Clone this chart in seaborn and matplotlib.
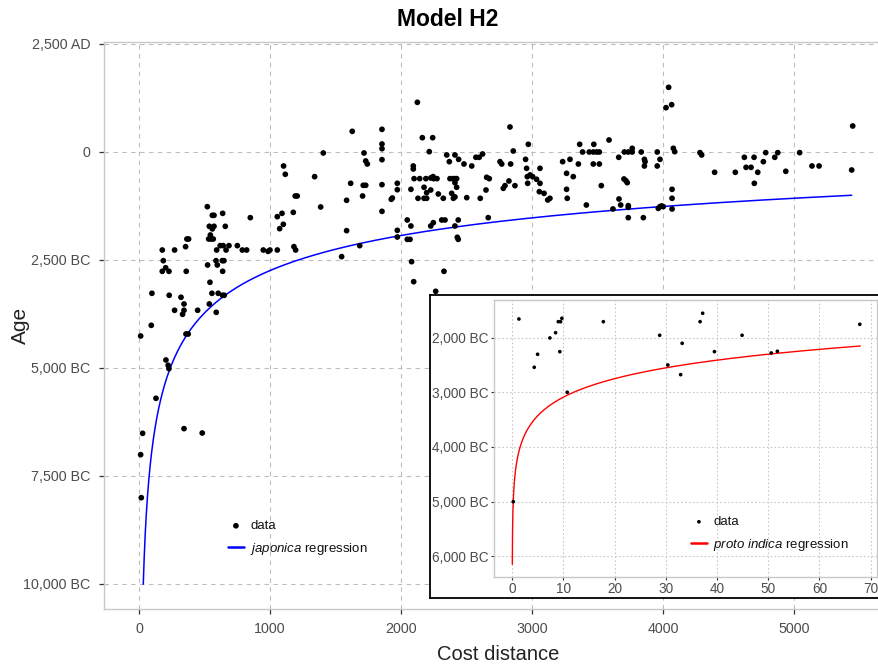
import numpy as np
import pandas as pd
import matplotlib
matplotlib.use("Agg")
import matplotlib.pyplot as plt
import seaborn as sns

# ---------------- data ----------------
# main panel: cost distance vs age (calendar year, negative = BC)
cost_main = [
    1628, 1855, 1855, 1855, 1855, 1407, 1718, 1731, 1743, 1104, 1117, 1341, 1616, 1712, 1731,
    1707, 1855, 1972, 1972, 1926, 1934, 1585, 1387, 1193, 1208, 1178, 1855, 1056, 1092, 1102,
    1074, 1585, 1972, 1972, 1547, 1685, 1183, 1196, 850, 751, 789, 822, 949, 985, 1000, 1056,
    522, 560, 573, 639, 537, 573, 560, 659, 545, 532, 550, 567, 366, 379, 356, 178, 272, 593,
    620, 643, 665, 687, 186, 178, 204, 229, 361, 588, 636, 649, 598, 639, 524, 542, 99, 231,
    321, 557, 605, 638, 651, 537, 272, 344, 344, 333, 448, 590, 94, 13, 359, 376, 206, 223,
    229, 130, 344, 483, 28, 13, 18,
    2125, 2163, 2242, 2216, 2094, 2094, 2076, 2100, 2143, 2190, 2227, 2245, 2250, 2275, 2176,
    2227, 2196, 2130, 2176, 2196, 2048, 2076, 2048, 2069, 2081, 2097, 2265, 2328, 2227, 2247,
    2285, 2323, 2311, 2336, 2349, 2369, 2412, 2440, 2481, 2374, 2395, 2412, 2425, 2412, 2425,
    2387, 2412, 2400, 2412, 2437, 2430, 2437, 2502, 2540, 2572, 2597, 2623, 2605, 2649, 2654,
    2674, 2666, 2756, 2769, 2832, 2857, 2837, 2824, 2870, 2781, 2794, 2951, 2959, 2972, 2964,
    2985, 3005, 3035, 2967, 3061, 3061, 3056, 3092, 3120, 3137, 3234, 3290, 3264, 3315, 3264,
    3269, 3364, 3354, 3386, 3437, 3472, 3468, 3494, 3514, 3468, 3514, 3415, 3529, 3588, 3618,
    3662, 3664, 3677, 3705, 3735, 3765, 3765, 3702, 3717, 3727, 3735, 3735, 3735, 3834, 3858,
    3863, 3858, 3850, 3956, 3977, 3956, 3964, 3977, 4002, 3990, 4043, 4023, 4066, 4079, 4089,
    4069, 4069, 4069, 4282, 4295, 4394, 4552, 4621, 4634, 4672, 4695, 4697, 4723, 4766, 4784,
    4853, 4876, 4937, 5043, 5137, 5191, 5448, 5440,
]
age_main = [
    478, 525, 185, 77, -178, -23, -23, -208, -278, -324, -516, -571, -725, -771, -771,
    -1019, -756, -725, -873, -1095, -1065, -1118, -1273, -1019, -1019, -1397, -1374, -1497, -1420, -1674,
    -1775, -1821, -1813, -1968, -2423, -2168, -2192, -2269, -1520, -2168, -2269, -2269, -2269, -2300, -2269, -2269,
    -1266, -1466, -1466, -1420, -1720, -1720, -1780, -1721, -1921, -2014, -2014, -2014, -2014, -2014, -2192, -2269, -2269, -2269,
    -2168, -2168, -2269, -2168, -2516, -2762, -2680, -2762, -2762, -2516, -2516, -2516, -2616, -2762, -2616, -3016, -3271, -3317,
    -3363, -3271, -3271, -3317, -3317, -3518, -3664, -3518, -3664, -3757, -3664, -3711, -4012, -4259, -4213, -4213, -4815, -4938,
    -5015, -5702, -6404, -6505, -6512, -7006, -8002,
    1150, 331, 331, 8, -324, -394, -864, -617, -617, -617, -601, -570, -617, -617, -817,
    -880, -942, -1072, -1072, -1072, -1574, -1713, -2022, -2022, -2539, -3002, -3225, -2762, -1713, -1636,
    -972, -1072, -1574, -1574, -69, -224, -69, -170, -278, -617, -617, -617, -617, -710, -817,
    -957, -1040, -1072, -1713, -1574, -1975, -2022, -1057, -324, -123, -123, -46, -1072, -880, -586,
    -617, -1520, -224, -278, 579, 23, -278, -671, -779, -841, -779, -170, -378, 178, -571,
    -532, -571, -632, -725, -378, -725, -919, -957, -1111, -1072, -224, -170, -494, -571, -864,
    -1072, 178, -278, 0, 0, 178, 0, 0, 0, -278, -278, -1227, -779, 278, -1319,
    -123, -1088, -1227, 0, 0, 85, 0, -625, -665, -710, -1242, -1281, -1520, 0, -170,
    -224, -324, -1520, 0, -170, -324, -1304, -1265, -1265, -1250, 1497, 1026, 1095, 85, 8,
    -864, -1072, -1319, -15, -69, -470, -470, -123, -355, -355, -123, -725, -470, -224, -15,
    -123, -15, -447, -15, -324, -324, 602, -417,
]

# inset panel (proto indica)
cost_inset = [1.31, 4.3, 4.96, 7.36, 8.47, 9.0, 9.45, 9.7, 9.3, 10.75, 0.2, 17.8, 28.8,
              30.4, 32.9, 33.2, 36.7, 37.2, 39.5, 44.9, 50.6, 51.8, 67.9]
age_inset = [-1658, -2542, -2304, -2005, -1909, -1707, -1707, -1645, -2256, -3000, -5003, -1707, -1956,
             -2500, -2677, -2103, -1707, -1553, -2256, -1956, -2280, -2249, -1755]

# regression models
# japonica: years BP = exp(c) * cost^b ; calendar year = 1950 - BP
japonica_fit = {"c": 10.347, "b": -0.274, "xmin": 33, "xmax": 5440}
# proto indica: year = a + b * ln(cost)
indica_fit = {"a": -4214, "b": 488.6, "xmin": 0.019, "xmax": 68}

main_yticks = [2500, 0, -2500, -5000, -7500, -10000]
main_yticklabels = ["2,500 AD", "0", "2,500 BC", "5,000 BC", "7,500 BC", "10,000 BC"]
main_xticks = [0, 1000, 2000, 3000, 4000, 5000]
inset_yticks = [-2000, -3000, -4000, -5000, -6000]
inset_yticklabels = ["2,000 BC", "3,000 BC", "4,000 BC", "5,000 BC", "6,000 BC"]
inset_xticks = [0, 10, 20, 30, 40, 50, 60, 70]

# ---------------- styling ----------------
sns.set_theme(style="white")
plt.rcParams["font.family"] = ["Liberation Sans", "DejaVu Sans"]
plt.rcParams["mathtext.fontset"] = "custom"
plt.rcParams["mathtext.it"] = "Liberation Sans:italic"
plt.rcParams["mathtext.rm"] = "Liberation Sans"

W, H = 879, 665
fig = plt.figure(figsize=(W / 100, H / 100), dpi=100)
fig.patch.set_facecolor("white")


def frac(x0, y0, x1, y1):
    return [x0 / W, 1 - y1 / H, (x1 - x0) / W, (y1 - y0) / H]


tick_col = "#333333"
lab_col = "#4d4d4d"
spine_col = "#c8c8c8"

# ---------------- main panel ----------------
ax = fig.add_axes(frac(103.7, 41.7, 878, 609))
df_main = pd.DataFrame({"cost": cost_main, "age": age_main})
xj = np.geomspace(japonica_fit["xmin"], japonica_fit["xmax"], 600)
yj = 1950 - np.exp(japonica_fit["c"] + japonica_fit["b"] * np.log(xj))
df_j = pd.DataFrame({"cost": xj, "age": yj})

sns.scatterplot(data=df_main, x="cost", y="age", ax=ax, color="black", s=17,
                edgecolor="none", label="data", zorder=3)
sns.lineplot(data=df_j, x="cost", y="age", ax=ax, color="#0000ff", lw=1.1,
             sort=False, estimator=None, label=r"$\it{japonica}$ regression", zorder=2)

ax.set_xlim(-269, 5641)
ax.set_ylim(-10579, 2553)
ax.set_xticks(main_xticks)
ax.set_xticklabels([str(v) for v in main_xticks])
ax.set_yticks(main_yticks)
ax.set_yticklabels(main_yticklabels)
ax.grid(True, color="#bdbdbd", linestyle=(0, (4, 4)), linewidth=0.8)
ax.set_axisbelow(True)
for side in ["left", "bottom", "top"]:
    ax.spines[side].set_color(spine_col)
    ax.spines[side].set_linewidth(1.0)
ax.spines["right"].set_visible(False)
ax.tick_params(axis="both", length=3.5, width=0.9, color=tick_col, labelcolor=lab_col,
               labelsize=10.3, pad=6, direction="out", bottom=True, left=True)
ax.set_xlabel("")
ax.set_ylabel("")

leg = ax.legend(loc="upper left", bbox_to_anchor=(228 / W, 1 - 520 / H),
                bbox_transform=fig.transFigure, frameon=False, fontsize=9.5,
                handlelength=1.2, handletextpad=0.5, labelspacing=0.65,
                borderaxespad=0, borderpad=0)
for t in leg.get_texts():
    t.set_color("#111111")
for h in leg.get_lines():
    h.set_linewidth(1.8)

fig.text(448 / W, 1 - 20 / H, "Model H2", ha="center", va="center", color="black",
         fontsize=16.5, fontweight="bold")
fig.text(20 / W, 1 - 325 / H, "Age", rotation=90, ha="center", va="center",
         fontsize=15, color="#222222")
fig.text(498 / W, 1 - 655 / H, "Cost distance", ha="center", va="center",
         fontsize=14.5, color="#222222")

# ---------------- inset ----------------
box = fig.add_axes(frac(430, 295, 880, 598.3))
box.set_facecolor("white")
box.set_xticks([])
box.set_yticks([])
for s in box.spines.values():
    s.set_color("black")
    s.set_linewidth(1.3)

axi = fig.add_axes(frac(494.3, 300, 876.7, 576.7))
df_in = pd.DataFrame({"cost": cost_inset, "age": age_inset})
xi = np.geomspace(indica_fit["xmin"], indica_fit["xmax"], 600)
yi = indica_fit["a"] + indica_fit["b"] * np.log(xi)
df_i = pd.DataFrame({"cost": xi, "age": yi})
sns.scatterplot(data=df_in, x="cost", y="age", ax=axi, color="black", s=7,
                edgecolor="none", label="data", zorder=3)
sns.lineplot(data=df_i, x="cost", y="age", ax=axi, color="#ff0000", lw=1.0,
             sort=False, estimator=None, label=r"$\it{proto\ indica}$ regression", zorder=2)
axi.set_xlim(-3.5, 71.2)
axi.set_ylim(-6377, -1310)
axi.set_xticks(inset_xticks)
axi.set_xticklabels([str(v) for v in inset_xticks])
axi.set_yticks(inset_yticks)
axi.set_yticklabels(inset_yticklabels)
axi.grid(True, color="#c8c8c8", linestyle=(0, (1.5, 2)), linewidth=0.8)
axi.set_axisbelow(True)
for s in axi.spines.values():
    s.set_color(spine_col)
    s.set_linewidth(1.0)
axi.tick_params(axis="both", length=2.5, width=0.8, color=tick_col, labelcolor=lab_col,
                labelsize=9.8, pad=1.5, direction="out", bottom=True, left=True)
axi.set_xlabel("")
axi.set_ylabel("")
legi = axi.legend(loc="upper left", bbox_to_anchor=(691 / W, 1 - 516 / H),
                  bbox_transform=fig.transFigure, frameon=False, fontsize=9.5,
                  handlelength=1.2, handletextpad=0.5, labelspacing=0.65,
                  borderaxespad=0, borderpad=0)
for t in legi.get_texts():
    t.set_color("#111111")
for h in legi.get_lines():
    h.set_linewidth(1.8)

fig.savefig("out.png", dpi=100, facecolor="white")
